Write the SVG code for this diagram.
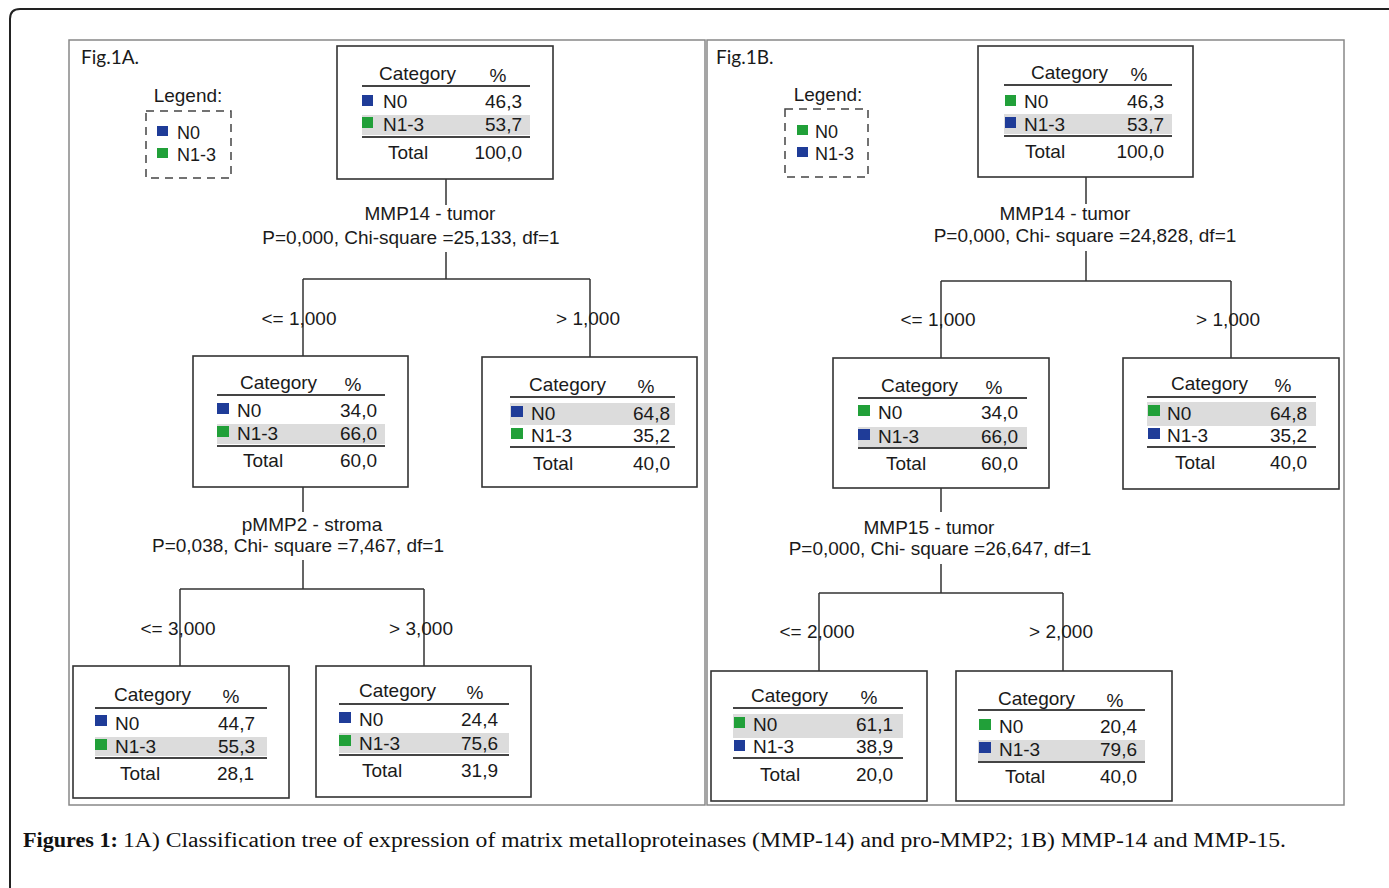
<svg xmlns="http://www.w3.org/2000/svg" width="1389" height="888" viewBox="0 0 1389 888">
<style>
.t{font-family:"Liberation Sans",Arial,sans-serif;font-size:19px;fill:#1a1a1a}
.s{font-size:18px}
.r{text-anchor:end}
.m{text-anchor:middle}
.fig{font-family:Lato,"Open Sans",sans-serif;font-size:19px;fill:#1a1a1a}
.box{fill:#fff;stroke:#333;stroke-width:1.6}
.hl{stroke:#444;stroke-width:2}
.band{fill:#dcdcdc}
.b{fill:#1f3c98}
.g{fill:#21a039}
.cn{fill:none;stroke:#333;stroke-width:1.5}
.pan{fill:#fff;stroke:#888;stroke-width:1.5}
.leg{fill:none;stroke:#444;stroke-width:1.5;stroke-dasharray:8 6}
.cap{font-family:"Liberation Serif","Times New Roman",serif;font-size:20px;fill:#111}
</style>
<rect width="1389" height="888" fill="#fff"/>
<path d="M10 888 V19 Q10 9 20 9 H1389" fill="none" stroke="#222" stroke-width="2"/>
<rect class="pan" x="69" y="40" width="636" height="765"/>
<rect class="pan" x="707" y="40" width="637" height="765" stroke="#666"/>
<text class="fig" x="81" y="64">Fig.1A.</text>
<text class="fig" x="716" y="64">Fig.1B.</text>

<g id="legendA">
<text class="t m" x="188" y="102">Legend:</text>
<rect class="leg" x="146" y="111" width="85" height="67"/>
<rect class="b" x="157" y="126" width="11" height="10"/>
<text class="t s" x="177" y="139">N0</text>
<rect class="g" x="157" y="148" width="11" height="10"/>
<text class="t s" x="177" y="161">N1-3</text>
</g>
<g id="legendB">
<text class="t m" x="828" y="101">Legend:</text>
<rect class="leg" x="785" y="109" width="83" height="68"/>
<rect class="g" x="797" y="125" width="11" height="10"/>
<text class="t s" x="815" y="138">N0</text>
<rect class="b" x="797" y="147" width="11" height="10"/>
<text class="t s" x="815" y="160">N1-3</text>
</g>

<g id="connectors">
<path class="cn" d="M446 179 V205 M446 252 V279 M303 279 H590 M303 279 V356 M590 279 V357"/>
<path class="cn" d="M303 487 V512 M303 560 V589 M180 589 H424 M180 589 V666 M424 589 V666"/>
<path class="cn" d="M1086 177 V204 M1086 251 V281 M941 281 H1231 M941 281 V358 M1231 281 V358"/>
<path class="cn" d="M941 488 V512 M941 564 V593 M819 593 H1063 M819 593 V671 M1063 593 V671"/>
<text class="t m" x="430" y="220">MMP14 - tumor</text>
<text class="t m" x="411" y="244">P=0,000, Chi-square =25,133, df=1</text>
<text class="t m" x="299" y="325">&lt;= 1,000</text>
<text class="t m" x="588" y="325">&gt; 1,000</text>
<text class="t m" x="312" y="531">pMMP2 - stroma</text>
<text class="t m" x="298" y="552">P=0,038, Chi- square =7,467, df=1</text>
<text class="t m" x="178" y="635">&lt;= 3,000</text>
<text class="t m" x="421" y="635">&gt; 3,000</text>
<text class="t m" x="1065" y="220">MMP14 -  tumor</text>
<text class="t m" x="1085" y="242">P=0,000, Chi- square =24,828, df=1</text>
<text class="t m" x="938" y="326">&lt;= 1,000</text>
<text class="t m" x="1228" y="326">&gt; 1,000</text>
<text class="t m" x="929" y="534">MMP15 - tumor</text>
<text class="t m" x="940" y="555">P=0,000, Chi- square =26,647, df=1</text>
<text class="t m" x="817" y="638">&lt;= 2,000</text>
<text class="t m" x="1061" y="638">&gt; 2,000</text>
</g>

<g id="nodeA0">
<rect class="box" x="337" y="46" width="216" height="133"/>
<text class="t" x="379" y="80">Category</text><text class="t m" x="498" y="82">%</text>
<line class="hl" x1="362" y1="86" x2="530" y2="86"/>
<rect class="b" x="362" y="95" width="11" height="11"/><text class="t" x="383" y="108">N0</text><text class="t r" x="522" y="108">46,3</text>
<rect class="band" x="362" y="115" width="168" height="20"/>
<rect class="g" x="362" y="117" width="11" height="11"/><text class="t" x="383" y="131">N1-3</text><text class="t r" x="522" y="131">53,7</text>
<line class="hl" x1="362" y1="137" x2="530" y2="137"/>
<text class="t" x="388" y="159">Total</text><text class="t r" x="522" y="159">100,0</text>
</g>

<g id="nodeA1">
<rect class="box" x="193" y="356" width="215" height="131"/>
<text class="t" x="240" y="389">Category</text><text class="t m" x="353" y="391">%</text>
<line class="hl" x1="217" y1="395" x2="385" y2="395"/>
<rect class="b" x="217" y="403" width="12" height="11"/><text class="t" x="237" y="417">N0</text><text class="t r" x="377" y="417">34,0</text>
<rect class="band" x="217" y="424" width="168" height="20"/>
<rect class="g" x="217" y="426" width="12" height="11"/><text class="t" x="237" y="440">N1-3</text><text class="t r" x="377" y="440">66,0</text>
<line class="hl" x1="217" y1="446" x2="385" y2="446"/>
<text class="t" x="243" y="467">Total</text><text class="t r" x="377" y="467">60,0</text>
</g>

<g id="nodeA2">
<rect class="box" x="482" y="357" width="215" height="130"/>
<text class="t" x="529" y="391">Category</text><text class="t m" x="646" y="393">%</text>
<line class="hl" x1="510" y1="397" x2="675" y2="397"/>
<rect class="band" x="510" y="403" width="165" height="22"/>
<rect class="b" x="511" y="406" width="12" height="11"/><text class="t" x="531" y="420">N0</text><text class="t r" x="670" y="420">64,8</text>
<rect class="g" x="511" y="428" width="12" height="11"/><text class="t" x="531" y="442">N1-3</text><text class="t r" x="670" y="442">35,2</text>
<line class="hl" x1="510" y1="447" x2="675" y2="447"/>
<text class="t" x="533" y="470">Total</text><text class="t r" x="670" y="470">40,0</text>
</g>

<g id="nodeA3">
<rect class="box" x="73" y="666" width="216" height="132"/>
<text class="t" x="114" y="701">Category</text><text class="t m" x="231" y="703">%</text>
<line class="hl" x1="95" y1="708" x2="267" y2="708"/>
<rect class="b" x="95" y="715" width="12" height="11"/><text class="t" x="115" y="730">N0</text><text class="t r" x="255" y="730">44,7</text>
<rect class="band" x="95" y="737" width="172" height="19"/>
<rect class="g" x="95" y="739" width="12" height="11"/><text class="t" x="115" y="753">N1-3</text><text class="t r" x="255" y="753">55,3</text>
<line class="hl" x1="95" y1="758" x2="267" y2="758"/>
<text class="t" x="120" y="780">Total</text><text class="t r" x="254" y="780">28,1</text>
</g>

<g id="nodeA4">
<rect class="box" x="316" y="666" width="215" height="131"/>
<text class="t" x="359" y="697">Category</text><text class="t m" x="475" y="699">%</text>
<line class="hl" x1="339" y1="704" x2="509" y2="704"/>
<rect class="b" x="339" y="712" width="12" height="11"/><text class="t" x="359" y="726">N0</text><text class="t r" x="498" y="726">24,4</text>
<rect class="band" x="339" y="733" width="170" height="20"/>
<rect class="g" x="339" y="735" width="12" height="11"/><text class="t" x="359" y="750">N1-3</text><text class="t r" x="498" y="750">75,6</text>
<line class="hl" x1="339" y1="755" x2="509" y2="755"/>
<text class="t" x="362" y="777">Total</text><text class="t r" x="498" y="777">31,9</text>
</g>

<g id="nodeB0">
<rect class="box" x="978" y="46" width="215" height="131"/>
<text class="t" x="1031" y="79">Category</text><text class="t m" x="1139" y="81">%</text>
<line class="hl" x1="1004" y1="85" x2="1172" y2="85"/>
<rect class="g" x="1005" y="95" width="11" height="11"/><text class="t" x="1024" y="108">N0</text><text class="t r" x="1164" y="108">46,3</text>
<rect class="band" x="1004" y="114" width="168" height="20"/>
<rect class="b" x="1005" y="117" width="11" height="11"/><text class="t" x="1024" y="131">N1-3</text><text class="t r" x="1164" y="131">53,7</text>
<line class="hl" x1="1004" y1="136" x2="1172" y2="136"/>
<text class="t" x="1025" y="158">Total</text><text class="t r" x="1164" y="158">100,0</text>
</g>

<g id="nodeB1">
<rect class="box" x="833" y="358" width="216" height="130"/>
<text class="t" x="881" y="392">Category</text><text class="t m" x="994" y="394">%</text>
<line class="hl" x1="858" y1="398" x2="1027" y2="398"/>
<rect class="g" x="858" y="405" width="12" height="11"/><text class="t" x="878" y="419">N0</text><text class="t r" x="1018" y="419">34,0</text>
<rect class="band" x="858" y="427" width="169" height="20"/>
<rect class="b" x="858" y="429" width="12" height="11"/><text class="t" x="878" y="443">N1-3</text><text class="t r" x="1018" y="443">66,0</text>
<line class="hl" x1="858" y1="448" x2="1027" y2="448"/>
<text class="t" x="886" y="470">Total</text><text class="t r" x="1018" y="470">60,0</text>
</g>

<g id="nodeB2">
<rect class="box" x="1123" y="358" width="216" height="131"/>
<text class="t" x="1171" y="390">Category</text><text class="t m" x="1283" y="392">%</text>
<line class="hl" x1="1147" y1="397" x2="1316" y2="397"/>
<rect class="band" x="1147" y="402" width="169" height="24"/>
<rect class="g" x="1148" y="405" width="12" height="11"/><text class="t" x="1167" y="420">N0</text><text class="t r" x="1307" y="420">64,8</text>
<rect class="b" x="1148" y="428" width="12" height="11"/><text class="t" x="1167" y="442">N1-3</text><text class="t r" x="1307" y="442">35,2</text>
<line class="hl" x1="1147" y1="447" x2="1316" y2="447"/>
<text class="t" x="1175" y="469">Total</text><text class="t r" x="1307" y="469">40,0</text>
</g>

<g id="nodeB3">
<rect class="box" x="711" y="671" width="216" height="130"/>
<text class="t" x="751" y="702">Category</text><text class="t m" x="869" y="704">%</text>
<line class="hl" x1="733" y1="708" x2="903" y2="708"/>
<rect class="band" x="733" y="714" width="170" height="24"/>
<rect class="g" x="734" y="717" width="11" height="11"/><text class="t" x="753" y="731">N0</text><text class="t r" x="893" y="731">61,1</text>
<rect class="b" x="734" y="740" width="11" height="11"/><text class="t" x="753" y="753">N1-3</text><text class="t r" x="893" y="753">38,9</text>
<line class="hl" x1="733" y1="758" x2="903" y2="758"/>
<text class="t" x="760" y="781">Total</text><text class="t r" x="893" y="781">20,0</text>
</g>

<g id="nodeB4">
<rect class="box" x="956" y="671" width="216" height="130"/>
<text class="t" x="998" y="705">Category</text><text class="t m" x="1115" y="707">%</text>
<line class="hl" x1="978" y1="710" x2="1145" y2="710"/>
<rect class="g" x="979" y="719" width="12" height="11"/><text class="t" x="999" y="733">N0</text><text class="t r" x="1137" y="733">20,4</text>
<rect class="band" x="978" y="740" width="167" height="21"/>
<rect class="b" x="979" y="742" width="12" height="11"/><text class="t" x="999" y="756">N1-3</text><text class="t r" x="1137" y="756">79,6</text>
<line class="hl" x1="978" y1="762" x2="1145" y2="762"/>
<text class="t" x="1005" y="783">Total</text><text class="t r" x="1137" y="783">40,0</text>
</g>

<text class="cap" x="23" y="847" font-weight="bold" textLength="95" lengthAdjust="spacingAndGlyphs">Figures 1:</text>
<text class="cap" x="123" y="847" textLength="1163" lengthAdjust="spacingAndGlyphs">1A) Classification tree of expression of matrix metalloproteinases (MMP-14) and pro-MMP2; 1B) MMP-14 and MMP-15.</text>
</svg>
